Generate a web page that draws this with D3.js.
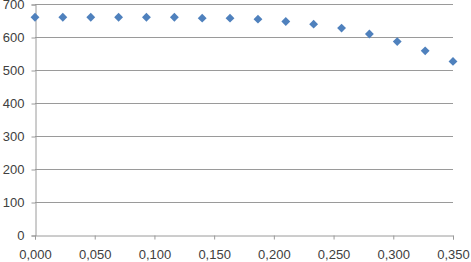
<!DOCTYPE html>
<html>
<head>
<meta charset="utf-8">
<script src="https://cdn.jsdelivr.net/npm/d3@7"></script>
<style>
  html, body { margin: 0; padding: 0; background: #fff; }
  svg { display: block; }
</style>
</head>
<body>
<svg id="chart" width="471" height="262"></svg>
<script>
// data
var xValues = [0, 0.0233, 0.0467, 0.07, 0.0933, 0.1167, 0.14, 0.1633, 0.1867, 0.21, 0.2333, 0.2567, 0.28, 0.3033, 0.3267, 0.35];
var yValues = [660, 660, 660, 660, 660, 660, 657, 657, 654, 647, 639, 627, 609, 586, 558, 526];
var xTicks = [0, 0.05, 0.1, 0.15, 0.2, 0.25, 0.3, 0.35];
var yTicks = [0, 100, 200, 300, 400, 500, 600, 700];

var svg = d3.select("#chart");
var plotLeft = 35, plotRight = 453, plotTop = 4, plotBottom = 235;

var x = d3.scaleLinear().domain([0, 0.35]).range([plotLeft, plotRight]);
var y = d3.scaleLinear().domain([0, 700]).range([plotBottom, plotTop]);

var locale = d3.formatLocale({decimal: ",", thousands: ".", grouping: [3], currency: ["", ""]});
var fmtX = locale.format(".3f");

var lineColor = "#9a9a9a";
var textColor = "#404040";

// gridlines
svg.append("g")
  .selectAll("line")
  .data(yTicks.filter(function(d){ return d > 0; }))
  .enter().append("line")
    .attr("x1", plotLeft).attr("x2", plotRight)
    .attr("y1", function(d){ return Math.round(y(d)) + 0.5; })
    .attr("y2", function(d){ return Math.round(y(d)) + 0.5; })
    .attr("stroke", lineColor)
    .attr("stroke-width", 1);

var yAxis = svg.append("g")
  .attr("transform", "translate(" + (plotLeft + 0.5) + ",0.5)")
  .call(d3.axisLeft(y).tickValues(yTicks).tickSize(4).tickPadding(7).tickFormat(d3.format("d")));

var xAxis = svg.append("g")
  .attr("transform", "translate(0," + (plotBottom + 0.5) + ")")
  .call(d3.axisBottom(x).tickValues(xTicks).tickSize(4).tickPadding(10).tickFormat(fmtX));

[yAxis, xAxis].forEach(function(ax){
  ax.select(".domain").attr("stroke", lineColor);
  ax.selectAll(".tick line").attr("stroke", lineColor);
  ax.selectAll(".tick text")
    .attr("fill", textColor)
    .style("font-family", "'Liberation Sans', Arial, sans-serif")
    .style("font-size", "13px");
});

// markers
var diamond = d3.symbol().type(d3.symbolDiamond2).size(50);
svg.append("g")
  .selectAll("path")
  .data(xValues.map(function(d, i){ return [d, yValues[i]]; }))
  .enter().append("path")
    .attr("d", diamond)
    .attr("transform", function(d){ return "translate(" + x(d[0]) + "," + y(d[1]) + ")"; })
    .attr("fill", "#4F81BD");
</script>
</body>
</html>
